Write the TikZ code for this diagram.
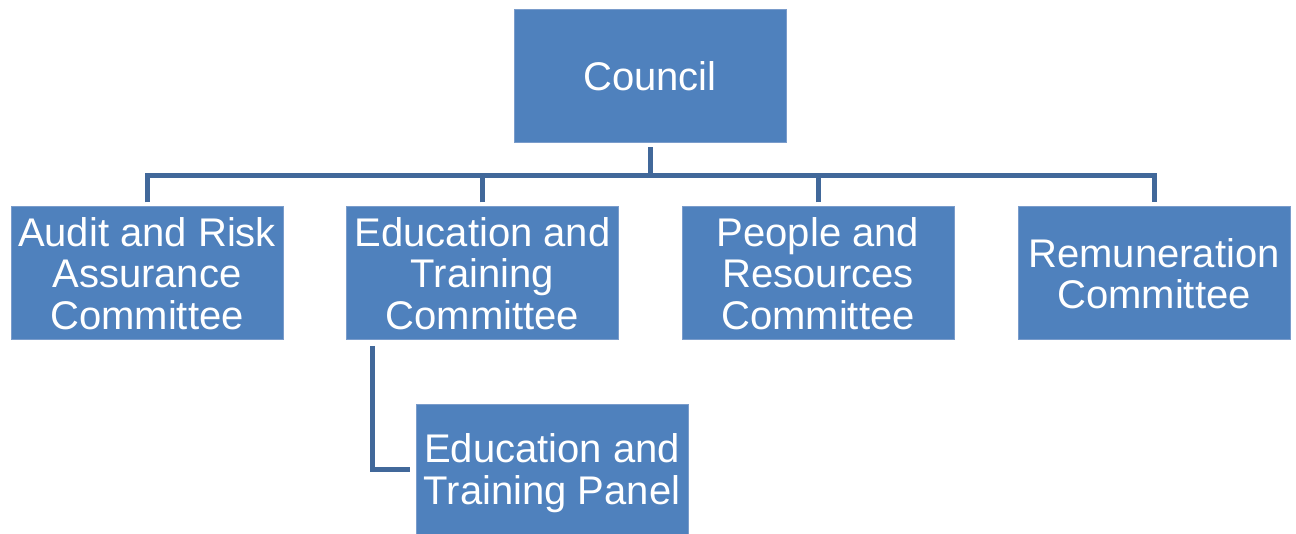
\documentclass[tikz,border=0pt]{standalone}
\usepackage{fontspec}
\setmainfont{Liberation Sans}
\definecolor{boxfill}{HTML}{4F81BD}
\definecolor{boxedge}{HTML}{7A9CCB}
\definecolor{linecol}{HTML}{41689A}
\tikzset{
  orgbox/.style={draw=boxedge, line width=1pt, fill=boxfill, text=white, minimum width=272pt, minimum height=133pt, inner sep=0pt, align=center, font=\fontsize{40}{41.5}\selectfont},
  conn/.style={draw=linecol, line width=5pt, line cap=butt, line join=miter}
}
\begin{document}
\begin{tikzpicture}[x=1pt,y=1pt]
\useasboundingbox (0,0) rectangle (1296,533);
\node[orgbox] (council) at (650,456.5) {Council};
\node[orgbox] (audit) at (147,259.5) {Audit and Risk\\Assurance\\Committee};
\node[orgbox] (edu) at (482.5,259.5) {Education and\\Training\\Committee};
\node[orgbox] (people) at (818,259.5) {People and\\Resources\\Committee};
\node[orgbox] (rem) at (1154,259.5) {Remuneration\\Committee};
\node[orgbox, minimum height=137pt, anchor=north] (panel) at (552,129) {Education and\\Training Panel};
\coordinate (bus) at (650,357);
\draw[conn] ([yshift=-4pt]council.south) -- (bus);
\draw[conn] ([yshift=4pt]audit.north) |- (bus) -| ([yshift=4pt]rem.north);
\draw[conn] ([yshift=4pt]edu.north) -- (edu.north |- bus);
\draw[conn] ([yshift=4pt]people.north) -- (people.north |- bus);
\coordinate (pv) at (372,187);
\draw[conn] (pv) |- ([xshift=-6pt]panel.west |- 0,63);
\end{tikzpicture}
\end{document}
